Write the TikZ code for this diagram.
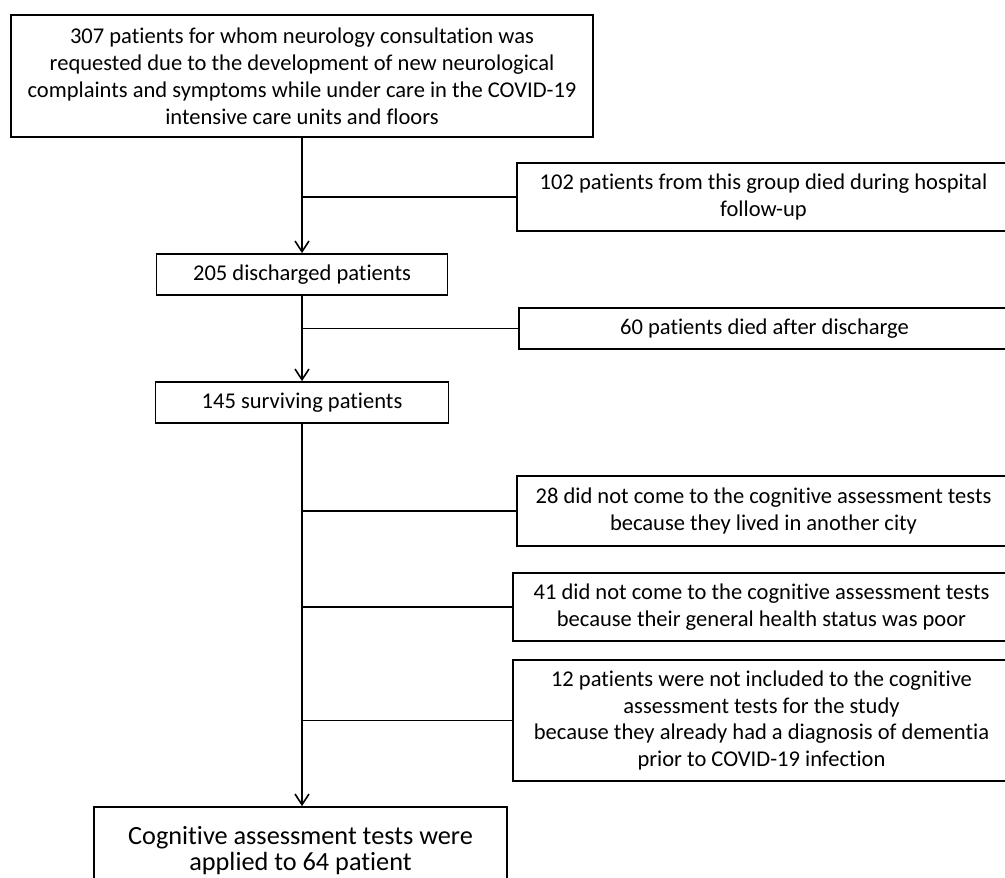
\documentclass[tikz,border=0pt]{standalone}
\usepackage{fontspec}
\setmainfont[Ligatures=CommonOff]{Carlito}
\usetikzlibrary{arrows.meta}
\tikzset{
  flowbox/.style={draw, line width=1.3pt, rectangle, inner sep=0pt, align=center,
    font=\fontsize{16.9}{20.2}\selectfont},
  flowline/.style={line width=1.3pt},
  flowarrow/.style={line width=1.3pt, -{Straight Barb[length=8pt,width=10.5pt,line width=1.2pt]}}
}
\begin{document}
\begin{tikzpicture}[x=0.75pt,y=-0.75pt]
  \useasboundingbox (0,0) rectangle (1005,877);
  % main column
  \node[flowbox, minimum width=436.5pt, minimum height=91.5pt] (start) at (302,76)
    {307 patients for whom neurology consultation was\\
     requested due to the development of new neurological\\
     complaints and symptoms while under care in the COVID-19\\
     intensive care units and floors};
  \node[flowbox, minimum width=218.25pt, minimum height=30.75pt] (disch) at (302,274.5) {205 discharged patients};
  \node[flowbox, minimum width=219.75pt, minimum height=30.75pt] (surv) at (302,402.5) {145 surviving patients};
  \node[flowbox, minimum width=309.75pt, minimum height=66pt, font=\fontsize{19.7}{19.4}\selectfont] (tested) at (300.5,851)
    {Cognitive assessment tests were\\ applied to 64 patient};
  % excluded boxes
  \node[flowbox, minimum width=369.75pt, minimum height=51pt] (died) at (763.5,197)
    {102 patients from this group died during hospital\\ follow-up};
  \node[flowbox, minimum width=368.25pt, minimum height=30.75pt] (diedafter) at (764.5,328.5) {60 patients died after discharge};
  \node[flowbox, minimum width=369.75pt, minimum height=52.5pt] (city) at (763.5,511)
    {28 did not come to the cognitive assessment tests\\ because they lived in another city};
  \node[flowbox, minimum width=372.75pt, minimum height=51pt] (health) at (761.5,607)
    {41 did not come to the cognitive assessment tests\\ because their general health status was poor};
  \node[flowbox, minimum width=372.75pt, minimum height=90.75pt] (dementia) at (761.5,720.5)
    {12 patients were not included to the cognitive\\ assessment tests for the study\\
     because they already had a diagnosis of dementia\\ prior to COVID-19 infection};
  % connectors
  \coordinate (b1) at (302,197);
  \coordinate (b2) at (302,328.5);
  \coordinate (b3) at (302,511);
  \coordinate (b4) at (302,607);
  \coordinate (b5) at (302,720.5);
  \draw[flowarrow] (start.south) -- (disch.north);
  \draw[flowarrow] (disch.south) -- (surv.north);
  \draw[flowarrow] (surv.south) -- (surv.south |- tested.north);
  \draw[flowline] (b1) -- (died.west);
  \draw[flowline] (b2) -- (diedafter.west);
  \draw[flowline] (b3) -- (city.west);
  \draw[flowline] (b4) -- (health.west);
  \draw[flowline] (b5) -- (dementia.west);
\end{tikzpicture}
\end{document}
